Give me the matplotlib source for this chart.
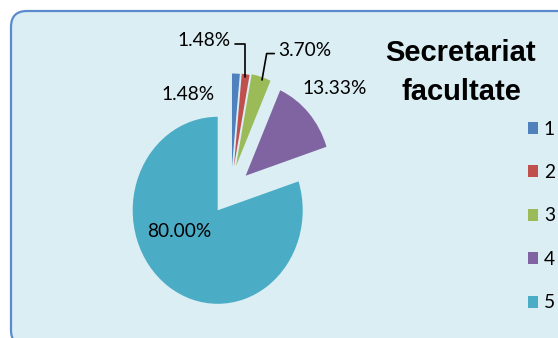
"""Pie chart: Secretariat facultate."""

import matplotlib.pyplot as plt
import matplotlib.transforms as mtransforms
from matplotlib.patches import FancyBboxPatch

# data
categories = ["1", "2", "3", "4", "5"]
shares = [1.48, 1.48, 3.70, 13.33, 80.00]
pct_labels = ["1.48%", "1.48%", "3.70%", "13.33%", "80.00%"]
title_lines = ["Secretariat", "facultate"]

colors = ["#4F81BD", "#C0504D", "#9BBB59", "#8064A2", "#4BACC6"]

W, H = 558, 338
# pie centre (px from left / from bottom) and radius in px (x, y)
cx, cy = 217.7, 127.7
rx, ry = 85.0, 93.5

# where each exploded slice sits (in pie radii)
offsets = [(0.168, 0.463), (0.19, 0.465), (0.215, 0.472), (0.329, 0.37), (0.0, 0.0)]

label_font = "Lato"
label_size = 13.8

fig = plt.figure(figsize=(W / 100, H / 100), dpi=100)
fig.patch.set_facecolor("white")

# rounded chart area
box = FancyBboxPatch((11, -8), W + 20, H - 11 + 8,
                     boxstyle="round,pad=0,rounding_size=16",
                     transform=mtransforms.IdentityTransform(),
                     facecolor="#DBEEF4", edgecolor="#5B8ACD", linewidth=1.6,
                     zorder=-1)
fig.add_artist(box)

ax = fig.add_axes([0, 0, 1, 1])
ax.patch.set_alpha(0)
wedges, _ = ax.pie(shares, colors=colors, startangle=90, counterclock=False,
                   radius=1, wedgeprops=dict(linewidth=0))
for w, off in zip(wedges, offsets):
    w.set_center(off)
ax.set_aspect("auto")
ax.set_xlim(-cx / rx, (W - cx) / rx)
ax.set_ylim(-cy / ry, (H - cy) / ry)
ax.axis("off")


def px(x, y_top):
    """pixel position (from top-left) -> pie data units"""
    return (x - cx) / rx, (H - y_top - cy) / ry


txt = dict(fontsize=label_size, family=label_font, color="black",
           ha="center", va="center")

# plain labels
ax.text(*px(188, 94), pct_labels[0], **txt)
ax.text(*px(334.5, 88), pct_labels[3], **txt)
ax.text(*px(179, 231.5), pct_labels[4], **txt)

# labels with leader lines
lead = dict(arrowstyle="-", color="black", lw=1.2, shrinkA=1, shrinkB=0)
ax.annotate(pct_labels[1], xy=px(245, 77), xytext=px(204, 41),
            arrowprops=dict(connectionstyle="angle,angleA=0,angleB=90,rad=0",
                            relpos=(1.0, 0.35), **lead), **txt)
ax.annotate(pct_labels[2], xy=px(262, 80), xytext=px(305, 51),
            arrowprops=dict(connectionstyle="angle,angleA=180,angleB=80,rad=0",
                            relpos=(0.0, 0.35), **lead), **txt)

# title
fig.text(461 / W, 1 - 61 / H, title_lines[0], ha="center", va="baseline",
         fontsize=21, fontweight="bold", family="Liberation Sans")
fig.text(461 / W, 1 - 100 / H, title_lines[1], ha="center", va="baseline",
         fontsize=21, fontweight="bold", family="Liberation Sans")

# legend
leg = fig.legend(wedges, categories, loc="upper left",
                 bbox_to_anchor=(518 / W, 1 - 111 / H), frameon=False,
                 borderpad=0, handlelength=0.55, handleheight=0.6,
                 handletextpad=0.3, labelspacing=1.38,
                 prop=dict(family=label_font, size=label_size))

fig.savefig("out.png", dpi=100)
